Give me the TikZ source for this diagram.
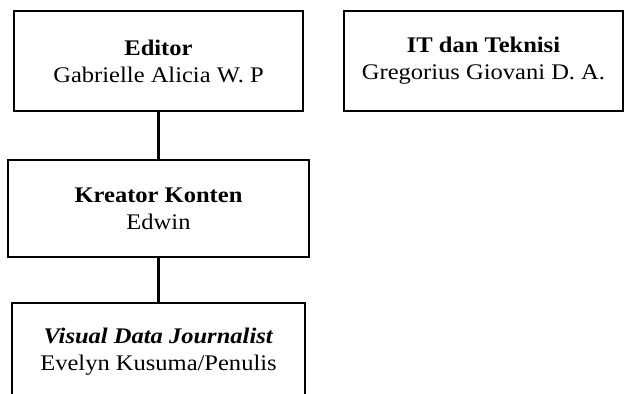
\documentclass[tikz,border=0pt]{standalone}
\usepackage{fontspec}
\setmainfont{Liberation Serif}[FakeStretch=1.1]
\usepackage{tikz}

\begin{document}
\begin{tikzpicture}[x=1pt,y=1pt,
  jabatan/.style={draw,line width=1.4pt,align=center,inner sep=0pt,
    font=\fontsize{22.3}{27}\selectfont},
  garis/.style={line width=2.2pt}]
\useasboundingbox (0,0) rectangle (625,394);
\node[jabatan,minimum width=289,minimum height=100] (editor) at (158.5,333) {\textbf{Editor}\\Gabrielle Alicia W. P};
\node[jabatan,minimum width=279,minimum height=100] (it) at (483.5,333) {\textbf{IT dan Teknisi}\\Gregorius Giovani D. A.};
\node[jabatan,minimum width=301,minimum height=97] (kreator) at (158.5,185.5) {\textbf{Kreator Konten}\\Edwin};
\node[jabatan,minimum width=293,minimum height=97] (visual) at (158.5,42.5) {\textbf{\textit{Visual Data Journalist}}\\Evelyn Kusuma/Penulis};
\draw[garis] (editor.south) -- (kreator.north);
\draw[garis] (kreator.south) -- (visual.north);
\end{tikzpicture}
\end{document}
